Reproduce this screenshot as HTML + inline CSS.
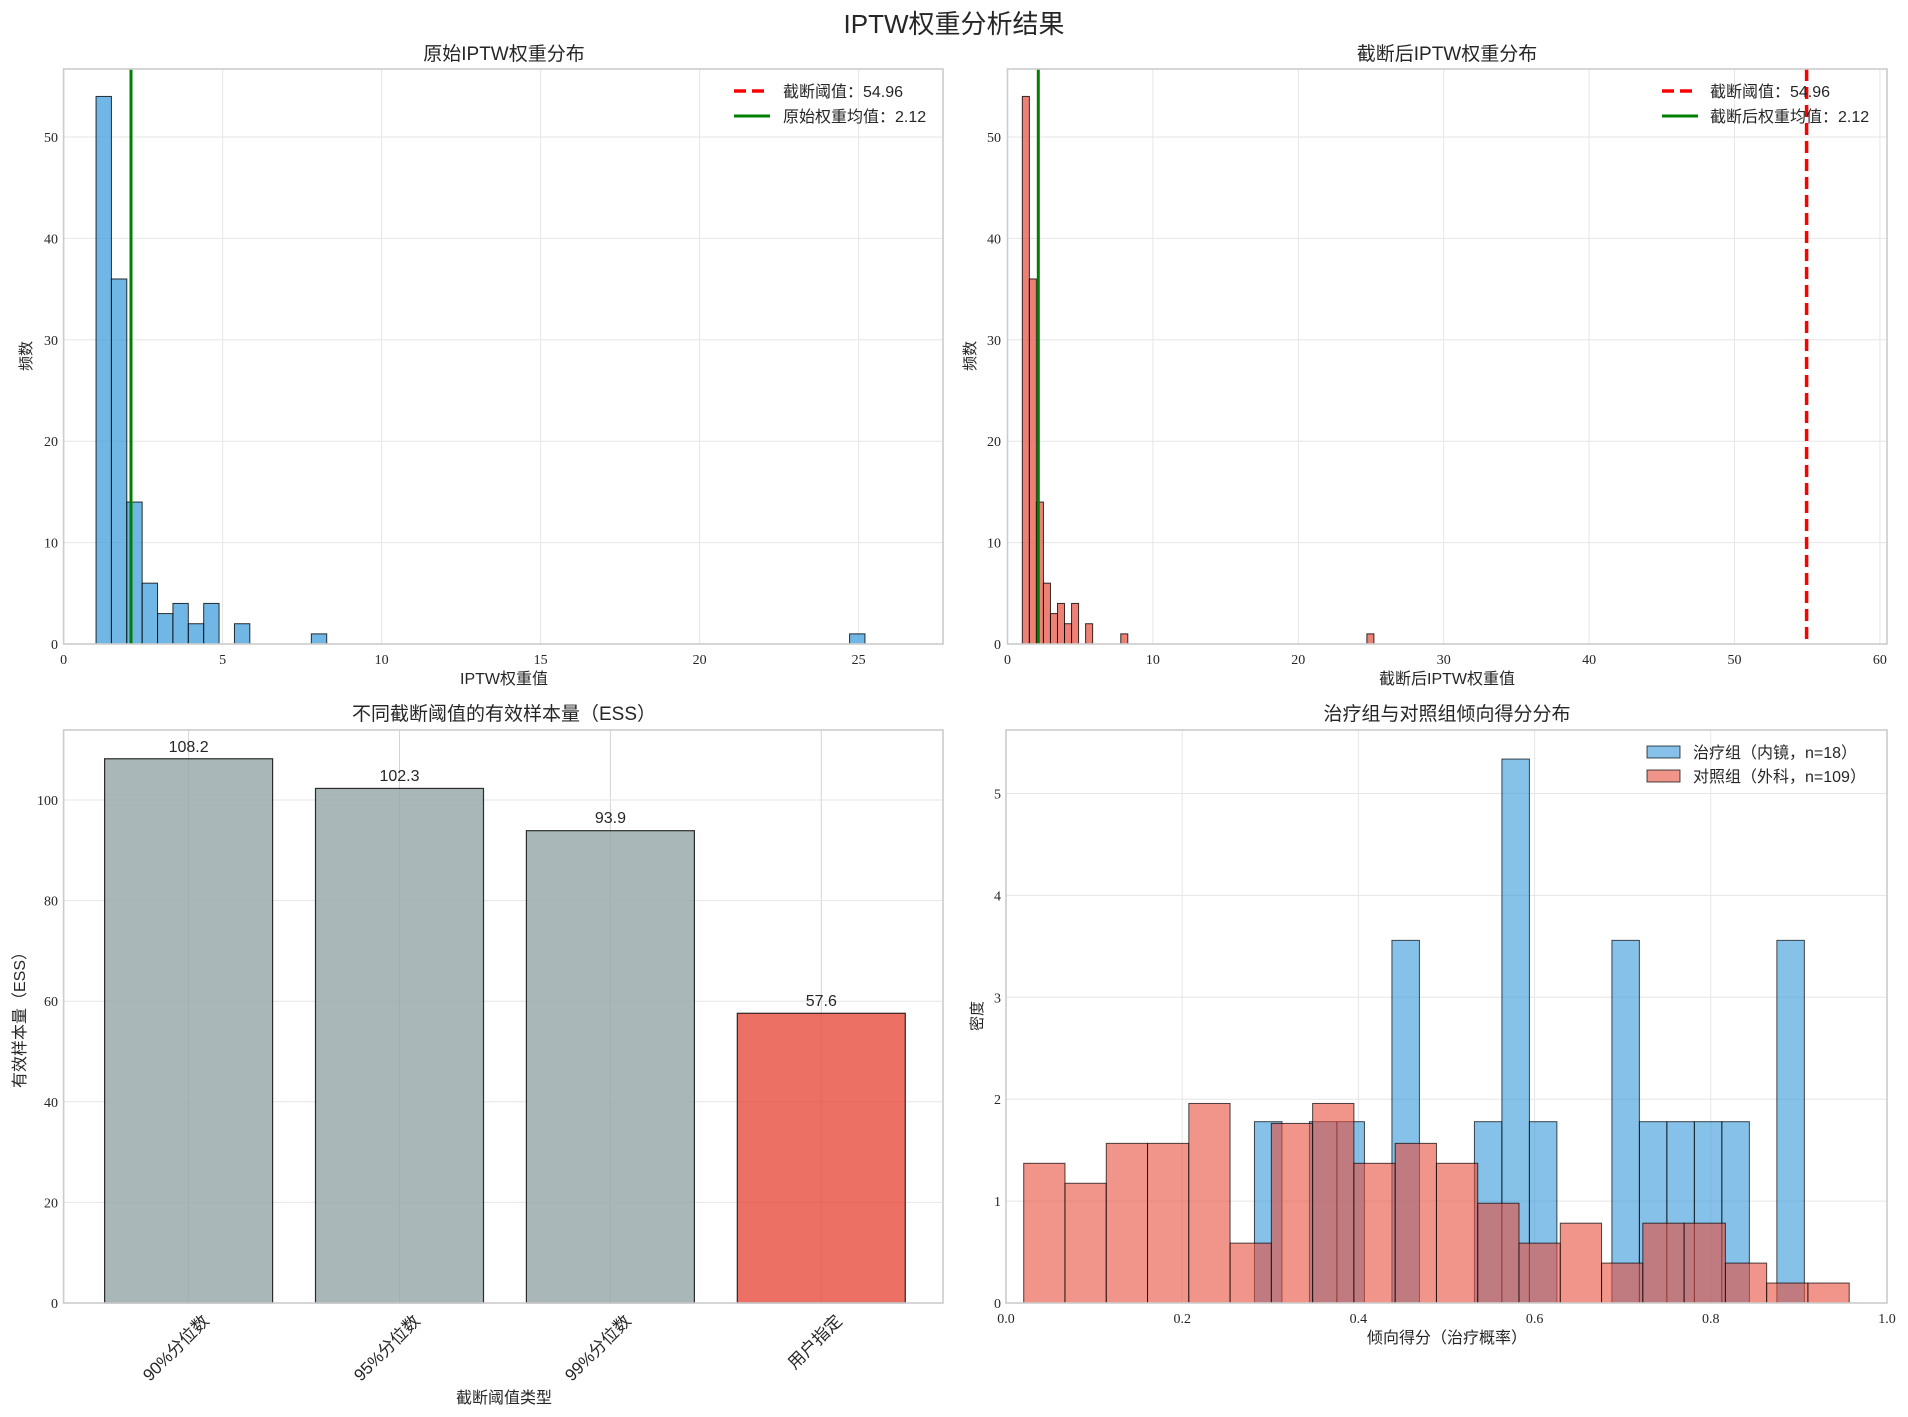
<!DOCTYPE html>
<html><head><meta charset="utf-8"><style>
html,body{margin:0;padding:0;background:#fff;}
svg{display:block;}
.t{font-family:"Liberation Serif",serif;font-size:14px;fill:#262626;}
.c{font-family:"Liberation Sans","Noto Sans CJK SC",sans-serif;fill:#262626;}
</style></head><body>
<svg id="s" width="1908" height="1417" xmlns="http://www.w3.org/2000/svg">
<rect width="1908" height="1417" fill="#fff"/>
<g id="g"></g>
<text class="c" x="954" y="33" font-size="26" text-anchor="middle">IPTW权重分析结果</text>
<text class="c" x="504" y="60" font-size="19" text-anchor="middle">原始IPTW权重分布</text>
<text class="c" x="1447" y="60" font-size="19" text-anchor="middle">截断后IPTW权重分布</text>
<text class="c" x="504" y="720" font-size="19" text-anchor="middle">不同截断阈值的有效样本量（ESS）</text>
<text class="c" x="1447" y="720" font-size="19" text-anchor="middle">治疗组与对照组倾向得分分布</text>
<text class="c" x="504" y="684" font-size="16" text-anchor="middle">IPTW权重值</text>
<text class="c" x="1447" y="684" font-size="16" text-anchor="middle">截断后IPTW权重值</text>
<text class="c" x="504" y="1403" font-size="16" text-anchor="middle">截断阈值类型</text>
<text class="c" x="1447" y="1343" font-size="16" text-anchor="middle">倾向得分（治疗概率）</text>
<text class="c" font-size="15" text-anchor="middle" transform="translate(31,356) rotate(-90)">频数</text>
<text class="c" font-size="15" text-anchor="middle" transform="translate(975,356) rotate(-90)">频数</text>
<text class="c" font-size="16" text-anchor="middle" transform="translate(25,1016) rotate(-90)">有效样本量（ESS）</text>
<text class="c" font-size="15" text-anchor="middle" transform="translate(982,1016) rotate(-90)">密度</text>
<g class="t" text-anchor="middle">
<text x="63.6" y="664">0</text><text x="222.6" y="664">5</text><text x="381.6" y="664">10</text><text x="540.6" y="664">15</text><text x="699.6" y="664">20</text><text x="858.6" y="664">25</text>
<text x="1007.5" y="664">0</text><text x="1152.9" y="664">10</text><text x="1298.3" y="664">20</text><text x="1443.7" y="664">30</text><text x="1589.1" y="664">40</text><text x="1734.5" y="664">50</text><text x="1879.9" y="664">60</text>
<text x="1006" y="1323">0.0</text><text x="1182.2" y="1323">0.2</text><text x="1358.4" y="1323">0.4</text><text x="1534.6" y="1323">0.6</text><text x="1710.8" y="1323">0.8</text><text x="1887" y="1323">1.0</text>
</g>
<g class="t" text-anchor="end">
<text x="58" y="649">0</text><text x="58" y="547.6">10</text><text x="58" y="446.2">20</text><text x="58" y="344.8">30</text><text x="58" y="243.4">40</text><text x="58" y="142">50</text>
<text x="1001" y="649">0</text><text x="1001" y="547.6">10</text><text x="1001" y="446.2">20</text><text x="1001" y="344.8">30</text><text x="1001" y="243.4">40</text><text x="1001" y="142">50</text>
<text x="58" y="1308">0</text><text x="58" y="1207.4">20</text><text x="58" y="1106.8">40</text><text x="58" y="1006.2">60</text><text x="58" y="905.6">80</text><text x="58" y="805">100</text>
<text x="1001" y="1308">0</text><text x="1001" y="1206.1">1</text><text x="1001" y="1104.2">2</text><text x="1001" y="1002.3">3</text><text x="1001" y="900.4">4</text><text x="1001" y="798.5">5</text>
</g>
<g class="c" font-size="16" text-anchor="middle">
<text x="188.6" y="752">108.2</text><text x="399.5" y="781">102.3</text><text x="610.4" y="823">93.9</text><text x="821.3" y="1006">57.6</text>
</g>
<g class="c" font-size="17" text-anchor="end">
<text transform="translate(210,1322) rotate(-45)">90%分位数</text>
<text transform="translate(421,1322) rotate(-45)">95%分位数</text>
<text transform="translate(632,1322) rotate(-45)">99%分位数</text>
<text transform="translate(843,1322) rotate(-45)">用户指定</text>
</g>
<line x1="734" y1="91" x2="770" y2="91" stroke="#ff0000" stroke-width="3.5" stroke-dasharray="12,6"/>
<line x1="734" y1="116" x2="770" y2="116" stroke="#008000" stroke-width="3"/>
<text class="c" x="783" y="97" font-size="16">截断阈值：54.96</text>
<text class="c" x="783" y="122" font-size="16">原始权重均值：2.12</text>
<line x1="1662" y1="91" x2="1698" y2="91" stroke="#ff0000" stroke-width="3.5" stroke-dasharray="12,6"/>
<line x1="1662" y1="116" x2="1698" y2="116" stroke="#008000" stroke-width="3"/>
<text class="c" x="1710" y="97" font-size="16">截断阈值：54.96</text>
<text class="c" x="1710" y="122" font-size="16">截断后权重均值：2.12</text>
<rect x="1647" y="746" width="33" height="12" fill="#3498db" fill-opacity="0.6" stroke="#000" stroke-opacity="0.7"/>
<rect x="1647" y="770" width="33" height="12" fill="#e74c3c" fill-opacity="0.6" stroke="#000" stroke-opacity="0.7"/>
<text class="c" x="1693" y="758" font-size="16">治疗组（内镜，n=18）</text>
<text class="c" x="1693" y="782" font-size="16">对照组（外科，n=109）</text>
</svg>
<script>
var g=document.getElementById('g'),NS='http://www.w3.org/2000/svg';
function el(t,a){var e=document.createElementNS(NS,t);for(var k in a)e.setAttribute(k,a[k]);g.appendChild(e);return e;}
function grid(L,R,T,B,xs,ys,xc){xs.forEach(function(x){el('line',{x1:x,x2:x,y1:T,y2:B,stroke:xc||'#e6e6e6','stroke-width':1});});
ys.forEach(function(y){el('line',{x1:L,x2:R,y1:y,y2:y,stroke:'#e6e6e6','stroke-width':1});});}
function frame(L,R,T,B){el('rect',{x:L,y:T,width:R-L,height:B-T,fill:'none',stroke:'#cccccc','stroke-width':1.6});}
var yc=[644,542.6,441.2,339.8,238.4,137];
var counts=[54,36,14,6,3,4,2,4,0,2,0,0,0,0,1];counts[49]=1;
grid(63.6,943,69,644,[63.6,222.6,381.6,540.6,699.6,858.6],yc);
function hist(X,col,op){for(var i=0;i<50;i++){var c=counts[i]||0;if(!c)continue;var a=1.02+i*0.4836,b=a+0.4836;
el('rect',{x:X(a),y:644-10.14*c,width:X(b)-X(a),height:10.14*c,fill:col,'fill-opacity':op,stroke:'#000','stroke-opacity':0.8,'stroke-width':1});}}
hist(function(v){return 63.6+31.8*v;},'#3498db',0.7);
el('line',{x1:131,x2:131,y1:69,y2:644,stroke:'#008000','stroke-width':3});
frame(63.6,943,69,644);
grid(1007.5,1887,69,644,[1007.5,1152.9,1298.3,1443.7,1589.1,1734.5,1879.9],yc);
hist(function(v){return 1007.5+14.54*v;},'#e74c3c',0.7);
el('line',{x1:1038.3,x2:1038.3,y1:69,y2:644,stroke:'#008000','stroke-width':3});
el('line',{x1:1806.6,x2:1806.6,y1:69,y2:644,stroke:'#ff0000','stroke-width':3.5,'stroke-dasharray':'12,6'});
frame(1007.5,1887,69,644);
grid(63.6,943,730,1303,[188.6,399.5,610.4,821.3],[1303,1202.4,1101.8,1001.2,900.6,800],'#d4d4d4');
[[188.6,108.2,'#95a5a6'],[399.5,102.3,'#95a5a6'],[610.4,93.9,'#95a5a6'],[821.3,57.6,'#e74c3c']].forEach(function(d){
el('rect',{x:d[0]-84,y:1303-5.03*d[1],width:168,height:5.03*d[1],fill:d[2],'fill-opacity':0.8,stroke:'#000','stroke-opacity':0.8,'stroke-width':1.2});});
frame(63.6,943,730,1303);
grid(1006,1887,730,1303,[1006,1182.2,1358.4,1534.6,1710.8,1887],[1303,1201.1,1099.2,997.3,895.4,793.5]);
var X4=function(v){return 1006+881*v;},Y4=function(v){return 1303-101.9*v;};
var bc=[1,0,1,1,0,2,0,0,1,3,1,0,0,2,1,1,1,1,0,2];
bc.forEach(function(c,i){if(!c)return;var a=0.282+i*0.03121,h=c*1.7794;
el('rect',{x:X4(a),y:Y4(h),width:881*0.03121,height:101.9*h,fill:'#3498db','fill-opacity':0.6,stroke:'#000','stroke-opacity':0.7,'stroke-width':1});});
var rc=[7,6,8,8,10,3,9,10,7,8,7,5,3,4,2,4,4,2,1,1];
rc.forEach(function(c,i){var a=0.0201+i*0.04685,h=c/(109*0.04685);
el('rect',{x:X4(a),y:Y4(h),width:881*0.04685,height:101.9*h,fill:'#e74c3c','fill-opacity':0.6,stroke:'#000','stroke-opacity':0.7,'stroke-width':1});});
frame(1006,1887,730,1303);
</script>
</body></html>
